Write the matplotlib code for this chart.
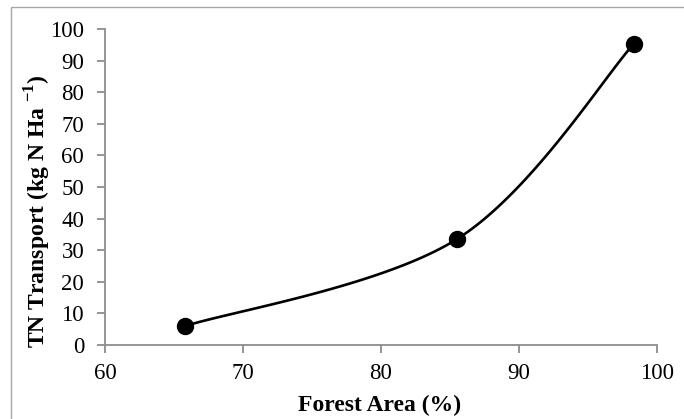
import numpy as np
import matplotlib.pyplot as plt
from matplotlib.patches import Rectangle

# data
forest_area = [65.8, 85.5, 98.3]
tn_transport = [6.0, 33.5, 95.2]

xticks = [60, 70, 80, 90, 100]
yticks = list(range(0, 101, 10))

plt.rcParams['font.family'] = ['Liberation Serif', 'DejaVu Serif']
plt.rcParams['mathtext.fontset'] = 'custom'
plt.rcParams['mathtext.rm'] = 'Liberation Serif'
plt.rcParams['mathtext.bf'] = 'Liberation Serif:bold'


# Excel-like smoothed line (cardinal bezier through the points)
def smooth_line(xs, ys, n=60):
    p = np.column_stack([xs, ys]).astype(float)
    pts = np.vstack([p[0], p, p[-1]])
    out = []
    for i in range(1, len(pts) - 2):
        p0, p1, p2, p3 = pts[i - 1], pts[i], pts[i + 1], pts[i + 2]
        c1 = p1 + (p2 - p0) / 6.0
        c2 = p2 - (p3 - p1) / 6.0
        t = np.linspace(0, 1, n)[:, None]
        seg = ((1 - t) ** 3 * p1 + 3 * (1 - t) ** 2 * t * c1
               + 3 * (1 - t) * t ** 2 * c2 + t ** 3 * p2)
        out.append(seg)
    return np.vstack(out)


fig = plt.figure(figsize=(6.84, 4.19), dpi=100)
ax = fig.add_axes([105 / 684, 1 - 345 / 419, 552 / 684, 316 / 419])

# outer chart frame
fig.patches.append(Rectangle((11 / 684, -0.1), 2.0, (419 - 7) / 419 + 0.1,
                             transform=fig.transFigure, fill=False,
                             edgecolor='#a6a6a6', linewidth=1.0))

curve = smooth_line(forest_area, tn_transport)
ax.plot(curve[:, 0], curve[:, 1], color='black', linewidth=1.9,
        solid_capstyle='round', clip_on=False)
ax.plot(forest_area, tn_transport, 'o', color='black', markersize=11.5,
        clip_on=False)

ax.set_xlim(60, 100)
ax.set_ylim(0, 100)
ax.set_xticks(xticks)
ax.set_yticks(yticks)

for side in ['top', 'right']:
    ax.spines[side].set_visible(False)
for side in ['left', 'bottom']:
    ax.spines[side].set_color('#8c8c8c')
    ax.spines[side].set_linewidth(1.3)

ax.tick_params(axis='both', direction='out', length=6, width=1.3,
               color='#8c8c8c', labelsize=16.5, pad=7)
ax.tick_params(axis='y', pad=9)

fig.text(380 / 684, 1 - 405 / 419, 'Forest Area (%)', ha='center',
         va='center', fontsize=17, fontweight='bold')
fig.text(38 / 684, 1 - 211 / 419, r'TN Transport (kg N Ha $^{\mathbf{-1}}$)',
         ha='center', va='center', rotation=90, fontsize=17,
         fontweight='bold')

fig.savefig('out.png', dpi=100)
